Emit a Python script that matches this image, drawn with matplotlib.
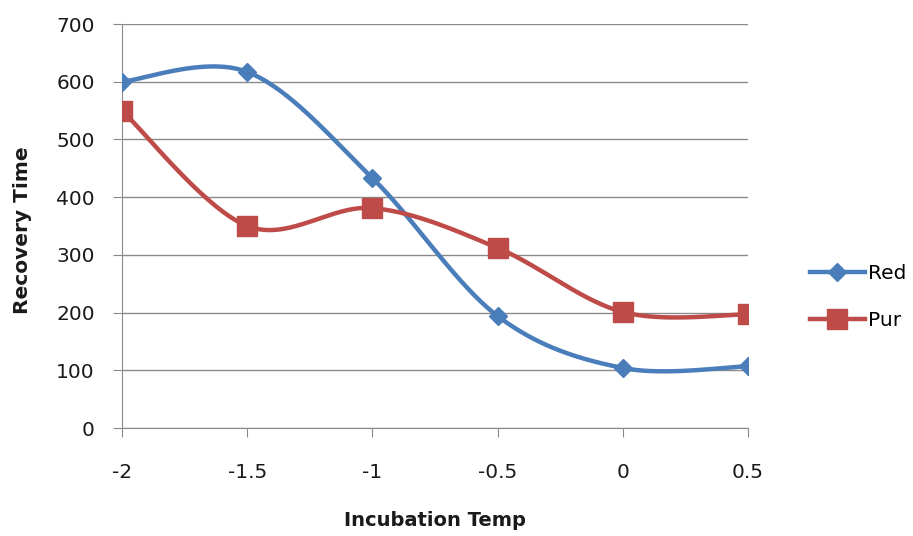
import numpy as np
import matplotlib
matplotlib.use("Agg")
import matplotlib.pyplot as plt

categories = [-2, -1.5, -1, -0.5, 0, 0.5]
tick_labels = ["-2", "-1.5", "-1", "-0.5", "0", "0.5"]
red_values = [600, 617, 433, 194, 104, 107]
pur_values = [550, 350, 381, 312, 201, 197]

BLUE = "#4A7EBB"
RED = "#BE4B48"


def smooth(xs, ys, n=60):
    pts = np.column_stack([xs, ys]).astype(float)
    P = np.vstack([pts[0], pts, pts[-1]])
    out = []
    t = np.linspace(0, 1, n)[:, None]
    for i in range(1, len(P) - 2):
        p0, p1, p2, p3 = P[i - 1], P[i], P[i + 1], P[i + 2]
        c1 = p1 + (p2 - p0) / 6.0
        c2 = p2 - (p3 - p1) / 6.0
        seg = ((1 - t) ** 3) * p1 + 3 * ((1 - t) ** 2) * t * c1 + 3 * (1 - t) * t ** 2 * c2 + t ** 3 * p2
        out.append(seg if i == 1 else seg[1:])
    out = np.vstack(out)
    return out[:, 0], out[:, 1]


plt.rcParams["font.family"] = ["DejaVu Sans"]

fig = plt.figure(figsize=(9.13, 5.36), dpi=100)
ax = fig.add_axes([122 / 913, 1 - 428 / 536, (748 - 122) / 913, (428 - 24) / 536])

for vals, col, mk, ms, lab in [
    (red_values, BLUE, "D", 9, "Red"),
    (pur_values, RED, "s", 14, "Pur"),
]:
    sx, sy = smooth(categories, vals)
    ax.plot(sx, sy, color=col, lw=3.2, solid_capstyle="round", zorder=3)
    ax.plot(categories, vals, linestyle="none", marker=mk, ms=ms, color=col, zorder=4)
    ax.plot([], [], color=col, lw=3.2, marker=mk, ms=ms, label=lab)

ax.set_xlim(-2, 0.5)
ax.set_ylim(0, 700)
ax.set_xticks(categories)
ax.set_xticklabels(tick_labels)
ax.set_yticks(range(0, 701, 100))
ax.grid(axis="y", color="#8a8a8a", lw=1)
ax.set_axisbelow(True)
for s in ["top", "right"]:
    ax.spines[s].set_visible(False)
for s in ["left", "bottom"]:
    ax.spines[s].set_color("#8a8a8a")
ax.tick_params(axis="both", colors="#8a8a8a", labelcolor="#1a1a1a", labelsize=14.5,
               length=6.5, direction="out")
ax.tick_params(axis="x", pad=19)
ax.tick_params(axis="y", pad=13)

fig.text(435 / 913, 1 - 521 / 536, "Incubation Temp", fontsize=14, fontweight="bold",
         ha="center", va="center", color="#1a1a1a")
fig.text(23 / 913, 1 - 230 / 536, "Recovery Time", fontsize=14.5, fontweight="bold",
         ha="center", va="center", rotation=90, color="#1a1a1a")

ax.legend(loc="center left", frameon=False, fontsize=14.5, handlelength=2.73,
          handletextpad=0.15, labelspacing=1.4, borderpad=0, borderaxespad=0,
          bbox_to_anchor=(810 / 913, 1 - 297 / 536), bbox_transform=fig.transFigure)

fig.savefig("out.png", dpi=100)
